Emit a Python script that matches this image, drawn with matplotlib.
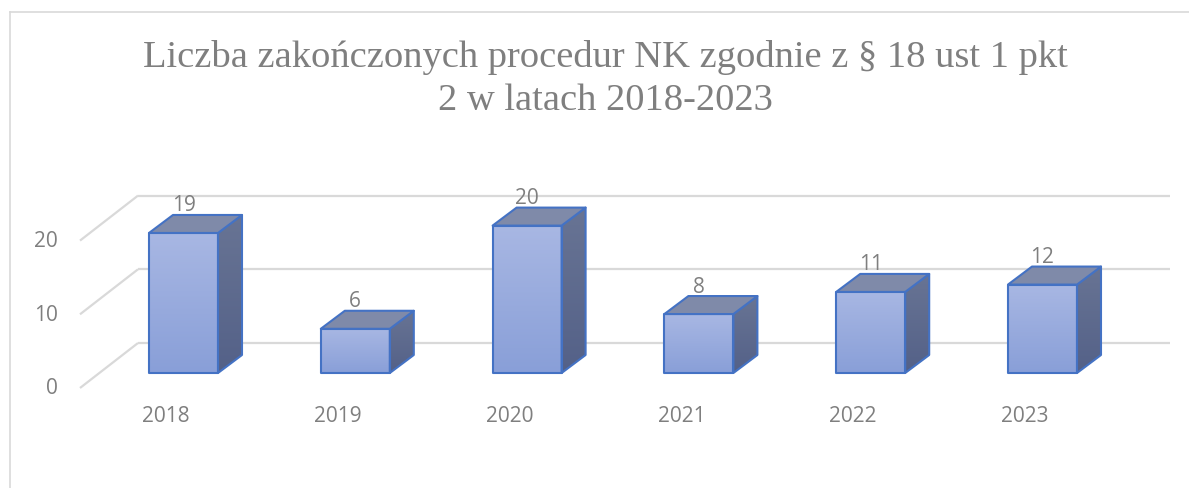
import matplotlib
matplotlib.use("Agg")
import matplotlib.pyplot as plt
import numpy as np
from matplotlib.patches import Polygon
from matplotlib.lines import Line2D

# ---- data ----
years = ["2018", "2019", "2020", "2021", "2022", "2023"]
values = [19, 6, 20, 8, 11, 12]
yticks = [0, 10, 20]
title_lines = ["Liczba zakończonych procedur NK zgodnie z § 18 ust 1 pkt",
               "2 w latach 2018-2023"]

W, H = 1189, 488
fig = plt.figure(figsize=(W / 100, H / 100), dpi=100)
ax = fig.add_axes([0, 0, 1, 1])
ax.axis("off")

PX = 171.8   # pixels per category
PY = 7.37    # pixels per unit value
X0 = 183.5   # pixel x of first category
Y0 = 373.0   # pixel y (from top) of value 0 on the bar plane


def dx(p):
    return p / PX


def dy(p):
    return p / PY


ax.set_xlim(-X0 / PX, (W - X0) / PX)
ax.set_ylim(-(H - Y0) / PY, Y0 / PY)

# chart border
fig.add_artist(Line2D([10 / W, 10 / W], [0, 1 - 12 / H], color="#d9d9d9", lw=1.2))
fig.add_artist(Line2D([10 / W, 1], [1 - 12 / H, 1 - 12 / H], color="#d9d9d9", lw=1.2))

# walls / gridlines
front_x = dx(80 - X0)
back_x = dx(138 - X0)
right_x = dx(1170 - X0)
front_off = -dy(15)
back_off = dy(30)
grid_c = "#d9d9d9"
lab_font = "Open Sans"
lab_size = 15
lab_col = "#7f7f7f"
for t in yticks:
    ax.plot([front_x, back_x], [t + front_off, t + back_off], color=grid_c, lw=1.6,
            solid_capstyle="butt", zorder=1)
    ax.plot([back_x, right_x], [t + back_off, t + back_off], color=grid_c, lw=1.6,
            solid_capstyle="butt", zorder=1)
    ax.text(dx(58 - X0), t + front_off - dy(1), str(t), ha="right", va="center",
            fontsize=lab_size, color=lab_col, family=lab_font, zorder=2)

# bars
hw = dx(34.5)
ddx, ddy = dx(24), dy(18)
front_top = np.array([168, 183, 227]) / 255
front_bot = np.array([137, 159, 216]) / 255
side_top = np.array([104, 116, 148]) / 255
side_bot = np.array([84, 97, 136]) / 255
top_col = "#7f8aa9"
edge = "#4472C4"

N = 64
tt = np.linspace(0, 1, N)[:, None]
front_grad = (front_top * (1 - tt) + front_bot * tt)[:, None, :]
side_grad = (side_top * (1 - tt) + side_bot * tt)[:, None, :]

for i, v in enumerate(values):
    xl, xr = i - hw, i + hw
    # front face
    ax.imshow(front_grad, extent=(xl, xr, 0, v), aspect="auto", origin="upper",
              interpolation="bilinear", zorder=3)
    ax.add_patch(Polygon([(xl, 0), (xr, 0), (xr, v), (xl, v)], closed=True, fill=False,
                         edgecolor=edge, lw=1.5, joinstyle="round", zorder=4))
    # side face
    side_pts = [(xr, 0), (xr + ddx, ddy), (xr + ddx, v + ddy), (xr, v)]
    side_poly = Polygon(side_pts, closed=True, facecolor="none", edgecolor="none")
    ax.add_patch(side_poly)
    ims = ax.imshow(side_grad, extent=(xr, xr + ddx, 0, v + ddy), aspect="auto",
                    origin="upper", interpolation="bilinear", zorder=3)
    ims.set_clip_path(side_poly)
    ax.add_patch(Polygon(side_pts, closed=True, fill=False, edgecolor=edge, lw=1.5,
                         joinstyle="round", zorder=4))
    # top face
    top_pts = [(xl, v), (xr, v), (xr + ddx, v + ddy), (xl + ddx, v + ddy)]
    ax.add_patch(Polygon(top_pts, closed=True, facecolor=top_col, edgecolor=edge,
                         lw=1.5, joinstyle="round", zorder=4))
    # data label
    ax.text(i, v + dy(27), str(v), ha="center", va="center", fontsize=lab_size,
            color=lab_col, family=lab_font, zorder=2.5)
    # category label
    ax.text(i - dx(17.5), -dy(44), years[i], ha="center", va="center",
            fontsize=lab_size, color=lab_col, family=lab_font, zorder=2)

ax.set_xlim(-X0 / PX, (W - X0) / PX)
ax.set_ylim(-(H - Y0) / PY, Y0 / PY)

# title
fig.text(605 / W, 1 - 67 / H, title_lines[0], ha="center", va="baseline",
         fontsize=27.7, color="#7f7f7f", family="Liberation Serif")
fig.text(605 / W, 1 - 110 / H, title_lines[1], ha="center", va="baseline",
         fontsize=27.7, color="#7f7f7f", family="Liberation Serif")

fig.savefig("out.png", dpi=100)
